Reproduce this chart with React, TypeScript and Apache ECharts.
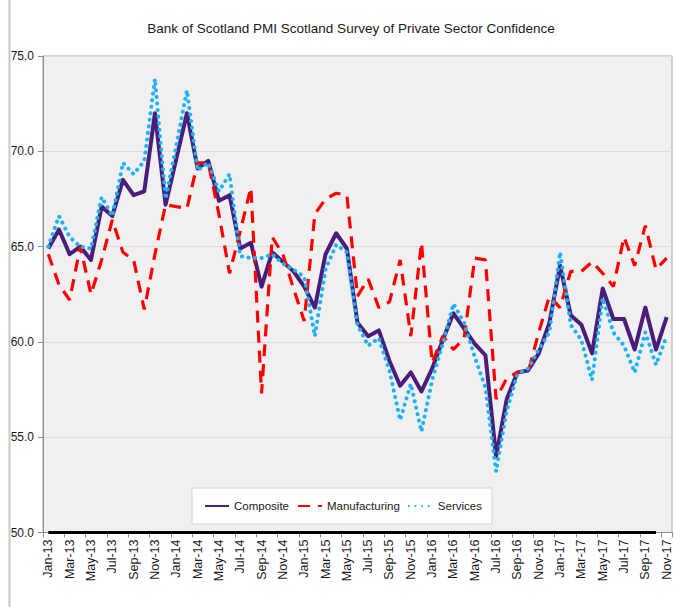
import React, { useEffect, useRef } from 'react';
import * as echarts from 'echarts';

const categories = [
  'Jan-13', 'Feb-13', 'Mar-13', 'Apr-13', 'May-13', 'Jun-13', 'Jul-13', 'Aug-13', 'Sep-13', 'Oct-13', 'Nov-13', 'Dec-13',
  'Jan-14', 'Feb-14', 'Mar-14', 'Apr-14', 'May-14', 'Jun-14', 'Jul-14', 'Aug-14', 'Sep-14', 'Oct-14', 'Nov-14', 'Dec-14',
  'Jan-15', 'Feb-15', 'Mar-15', 'Apr-15', 'May-15', 'Jun-15', 'Jul-15', 'Aug-15', 'Sep-15', 'Oct-15', 'Nov-15', 'Dec-15',
  'Jan-16', 'Feb-16', 'Mar-16', 'Apr-16', 'May-16', 'Jun-16', 'Jul-16', 'Aug-16', 'Sep-16', 'Oct-16', 'Nov-16', 'Dec-16',
  'Jan-17', 'Feb-17', 'Mar-17', 'Apr-17', 'May-17', 'Jun-17', 'Jul-17', 'Aug-17', 'Sep-17', 'Oct-17', 'Nov-17',
];

const composite = [
  64.9, 65.9, 64.6, 65.0, 64.3, 67.1, 66.6, 68.5, 67.7, 67.9, 72.0, 67.2,
  69.6, 72.0, 69.1, 69.5, 67.4, 67.7, 64.9, 65.2, 62.9, 64.7, 64.2, 63.7,
  62.9, 61.8, 64.6, 65.7, 64.9, 61.0, 60.3, 60.6, 59.0, 57.7, 58.4, 57.4,
  58.6, 60.1, 61.5, 60.7, 59.9, 59.3, 54.0, 57.0, 58.4, 58.5, 59.4, 61.0,
  64.0, 61.4, 60.9, 59.4, 62.8, 61.2, 61.2, 59.6, 61.8, 59.6, 61.3,
];

const manufacturing = [
  64.6, 63.0, 62.2, 65.0, 62.5, 64.3, 66.4, 64.7, 64.3, 61.7, 64.6, 67.2,
  67.1, 67.0, 69.4, 69.4, 66.7, 63.6, 65.8, 68.1, 57.3, 65.5, 64.6, 62.8,
  61.1, 66.7, 67.5, 67.8, 67.7, 62.4, 63.3, 61.8, 62.1, 64.3, 60.3, 65.2,
  58.9, 60.3, 59.6, 60.2, 64.4, 64.3, 57.0, 58.1, 58.4, 58.4, 60.5, 62.4,
  61.8, 63.7, 63.7, 64.2, 63.6, 62.9, 65.5, 64.0, 66.1, 63.8, 64.4,
];

const services = [
  65.0, 66.6, 65.5, 65.0, 64.9, 67.6, 66.6, 69.4, 68.8, 69.5, 73.8, 67.5,
  70.3, 73.2, 69.0, 69.4, 67.9, 68.8, 64.5, 64.4, 64.4, 64.6, 64.1, 63.8,
  63.4, 60.3, 63.8, 65.1, 64.7, 60.9, 59.8, 60.2, 58.5, 55.9, 57.8, 55.3,
  58.0, 59.9, 62.0, 61.0, 59.2, 57.6, 53.2, 56.4, 58.3, 58.6, 59.6, 60.5,
  64.7, 60.9, 60.1, 58.0, 62.3, 60.5, 59.8, 58.4, 60.5, 58.8, 60.3,
];

const seriesNames = ['Composite', 'Manufacturing', 'Services'];
const titleText = 'Bank of Scotland PMI Scotland Survey of Private Sector Confidence';
const yMin = 50;
const yMax = 75;
const yStep = 5;

const SANS = "'Liberation Sans', Arial, sans-serif";

export default function App() {
  const ref = useRef<HTMLDivElement>(null);

  useEffect(() => {
    document.body.style.margin = '0';
    const chart = echarts.init(ref.current as HTMLDivElement, null, { renderer: 'svg' });
    chart.setOption({
      animation: false,
      backgroundColor: '#ffffff',
      graphic: [
        {
          type: 'line',
          shape: { x1: 9.5, y1: 0, x2: 9.5, y2: 607 },
          style: { stroke: '#c8c8c8', lineWidth: 2 },
          silent: true,
        },
        {
          type: 'text',
          x: 351,
          y: 28,
          style: {
            text: titleText,
            font: `13.5px ${SANS}`,
            fill: '#1a1a1a',
            align: 'center',
            verticalAlign: 'middle',
          },
          silent: true,
        },
      ],
      grid: {
        left: 43,
        right: 2,
        top: 56,
        bottom: 74.5,
        show: true,
        backgroundColor: '#f0f0f0',
        borderColor: '#a6a6a6',
        borderWidth: 1,
      },
      legend: {
        data: seriesNames,
        left: 192,
        top: 488,
        orient: 'horizontal',
        backgroundColor: '#ffffff',
        borderColor: '#d4d4d4',
        borderWidth: 1,
        padding: [12, 10, 12, 12],
        itemGap: 8,
        itemWidth: 24,
        itemHeight: 12,
        itemStyle: { color: 'rgba(0,0,0,0)', borderColor: 'rgba(0,0,0,0)', borderWidth: 0, opacity: 0 },
        textStyle: { fontFamily: SANS, fontSize: 11.5, color: '#1a1a1a' },
      },
      xAxis: {
        type: 'category',
        data: categories,
        boundaryGap: true,
        axisLine: { show: true, lineStyle: { color: '#8c8c8c', width: 1 } },
        axisTick: { show: true, interval: 1, length: 5, lineStyle: { color: '#8c8c8c' } },
        axisLabel: {
          interval: 1,
          rotate: 90,
          margin: 7,
          fontFamily: SANS,
          fontSize: 12.5,
          color: '#1a1a1a',
        },
        splitLine: { show: false },
      },
      yAxis: {
        type: 'value',
        min: yMin,
        max: yMax,
        interval: yStep,
        axisLine: { show: true, lineStyle: { color: '#8c8c8c', width: 1 } },
        axisTick: { show: true, length: 5, lineStyle: { color: '#8c8c8c' } },
        axisLabel: {
          margin: 9,
          fontFamily: SANS,
          fontSize: 12,
          color: '#1a1a1a',
          formatter: (v: number) => v.toFixed(1),
        },
        splitLine: { show: true, lineStyle: { color: '#dcdcdc', width: 1 } },
      },
      series: [
        {
          name: seriesNames[0],
          type: 'line',
          data: composite,
          symbol: 'none',
          color: '#4b1d7a',
          lineStyle: { color: '#4b1d7a', width: 4, join: 'round' },
          z: 2,
          markLine: {
            silent: true,
            symbol: 'none',
            label: { show: false },
            lineStyle: { color: '#000000', width: 3, type: 'solid' },
            data: [[{ coord: [categories[0], yMin] }, { coord: [categories[57], yMin] }]],
          },
        },
        {
          name: seriesNames[1],
          type: 'line',
          data: manufacturing,
          symbol: 'none',
          color: '#ff0000',
          lineStyle: { color: '#ff0000', width: 3.2, type: [12, 8], cap: 'butt' },
          z: 3,
        },
        {
          name: seriesNames[2],
          type: 'line',
          data: services,
          symbol: 'none',
          color: '#1ab2f0',
          lineStyle: { color: '#1ab2f0', width: 4, type: [0.1, 6.5], cap: 'round' },
          z: 4,
        },
      ],
    });
    return () => chart.dispose();
  }, []);

  return <div ref={ref} style={{ width: 674, height: 607 }} />;
}
